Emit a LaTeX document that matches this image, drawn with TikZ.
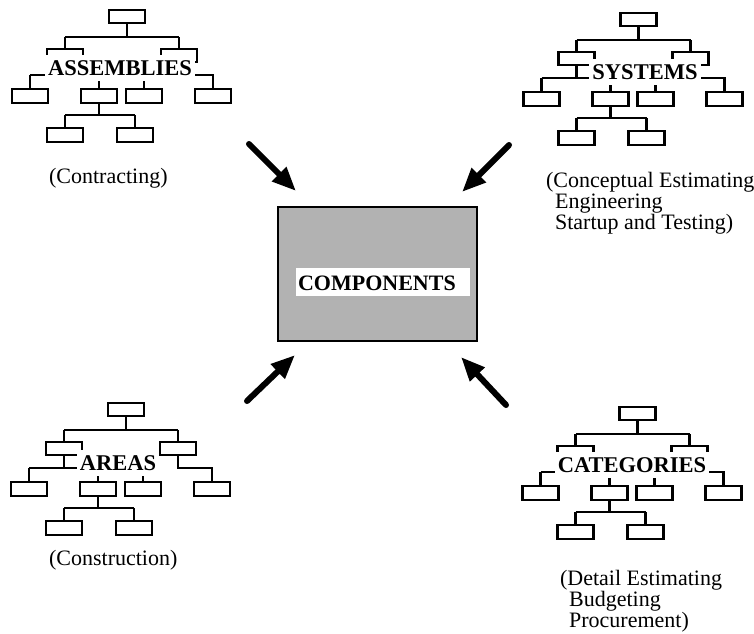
\documentclass[tikz,border=0pt]{standalone}
\usepackage{fontspec}
\setmainfont{Liberation Serif}
\usetikzlibrary{arrows.meta}
\tikzset{
  orgtree/.pic={
    \draw (-18,0) rectangle (18,13);
    \draw (0,13) -- (0,27);
    \draw (-62,27) -- (52,27);
    \draw (-62,27) -- (-62,39);
    \draw (52,27) -- (52,39);
    \draw (-80,39) rectangle (-44,52);
    \draw (34,39) rectangle (70,52);
    \draw (-62,52) -- (-62,65);
    \draw (-97,65) -- (17,65);
    \draw (-97,65) -- (-97,79);
    \draw (-28,65) -- (-28,79);
    \draw (17,65) -- (17,79);
    \draw (52,52) -- (52,65) -- (86,65) -- (86,79);
    \foreach \c in {-97,-28,17,86} {\draw (\c-18,79) rectangle (\c+18,93);}
    \draw (-28,93) -- (-28,105);
    \draw (-62,105) -- (8,105);
    \draw (-62,105) -- (-62,118);
    \draw (8,105) -- (8,118);
    \foreach \c in {-62,8} {\draw (\c-18,118) rectangle (\c+18,132);}
  },
  treelabel/.style={fill=white, font=\fontsize{22.5}{22}\selectfont\bfseries, anchor=base,
    inner xsep=3pt, inner ysep=0pt, text height=20pt, text depth=6pt},
  captext/.style={font=\fontsize{22}{20}\selectfont, anchor=base west, inner sep=0pt},
  bigarrow/.style={line width=6pt, line cap=round, -{Triangle[length=24pt,width=19pt]}},
}
\begin{document}
\begin{tikzpicture}[x=1pt, y=-1pt, line width=2.2pt]
\useasboundingbox (0,0) rectangle (754,633);

% trees
\pic at (127,10) {orgtree};
\pic at (638.5,13) {orgtree};
\pic at (126,403) {orgtree};
\pic at (637.5,407) {orgtree};

% tree labels
\node[treelabel] (lassem) at (120,75) {ASSEMBLIES};
\node[treelabel] (lsys) at (645,79) {SYSTEMS};
\node[treelabel] (lareas) at (118,470) {AREAS};
\node[treelabel] (lcat) at (632,472) {CATEGORIES};

% captions
\node[captext] (capA) at (48,183) {(Contracting)};
\node[captext, font=\fontsize{22}{21}\selectfont] (capS) at (545,187) {\begin{tabular}[t]{@{}l@{}}(Conceptual Estimating\\\hspace*{9pt}Engineering\\\hspace*{9pt}Startup and Testing)\end{tabular}};
\node[captext] (capR) at (48,565) {(Construction)};
\node[captext] (capC) at (559,585) {\begin{tabular}[t]{@{}l@{}}(Detail Estimating\\\hspace*{9pt}Budgeting\\\hspace*{9pt}Procurement)\end{tabular}};

% central box
\node[draw, line width=2.6pt, fill=black!30, minimum width=199pt, minimum height=134pt, inner sep=0pt] (comp) at (377.5,274) {};
\node[fill=white, font=\fontsize{22}{22}\selectfont\bfseries, anchor=base west, inner xsep=2pt, inner ysep=0pt, text height=22pt, text depth=6pt] (complabel) at (295,290) {COMPONENTS\hspace*{12pt}};

% arrows
\coordinate (a1s) at (249,144); \coordinate (a1e) at (296,191);
\coordinate (a2s) at (509,145); \coordinate (a2e) at (462,192);
\coordinate (a3s) at (247,401); \coordinate (a3e) at (295,355);
\coordinate (a4s) at (506,405); \coordinate (a4e) at (461,357);
\draw[bigarrow] (a1s) -- (a1e);
\draw[bigarrow] (a2s) -- (a2e);
\draw[bigarrow] (a3s) -- (a3e);
\draw[bigarrow] (a4s) -- (a4e);
\end{tikzpicture}
\end{document}
